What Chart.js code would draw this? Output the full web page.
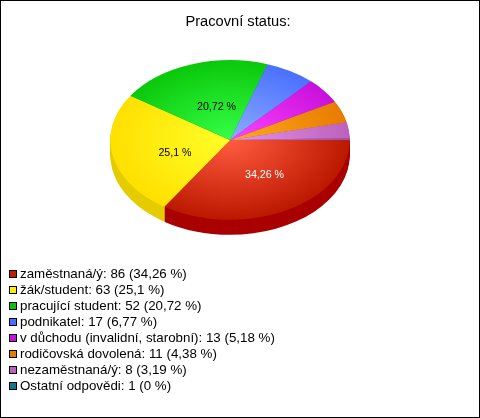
<!DOCTYPE html>
<html><head><meta charset="utf-8">
<style>html,body{margin:0;padding:0;background:#fff}canvas{display:block}</style>
<script src="https://cdn.jsdelivr.net/npm/chart.js@4"></script>
</head><body><div style="width:480px;height:418px"><canvas id="c" width="480" height="418"></canvas></div>
<script>
const titleText = "Pracovní status:";
const categories = ["zaměstnaná/ý","žák/student","pracující student","podnikatel","v důchodu (invalidní, starobní)","rodičovská dovolená","nezaměstnaná/ý","Ostatní odpovědi"];
const counts = [86,63,52,17,13,11,8,1];
const percents = [34.26,25.1,20.72,6.77,5.18,4.38,3.19,0];
const innerColors = ["#ff5c40","#ffff28","#36ff48","#8cacff","#ff44ff","#ffaa20","#e494ea","#c878c8"];
const outerColors = ["#bb1800","#ffe000","#0ac80a","#4a70ff","#c810dc","#e87c00","#bc62bc","#a050a0"];
const sideColors = ["#a90000","#e4cc00","#0a9a0a","#3050c0","#9a0ca8","#b86000","#905090","#905090"];
const swatchColors = ["#c41c00","#ffee00","#0cc40c","#4a70ff","#c810dc","#e87c00","#bc62bc","#107890"];
const shownLabels = [0,1,2];
const labelColors = ["#ffffff","#000000","#000000"];

const FONT = '"Liberation Sans", Arial, sans-serif';
const pieCx = 230, pieCy = 140, squash = 2/3, depth = 15;
const labelSpots = [[34.5,35],[-55,13],[-13.5,-33]];
const comma = v => String(v).replace('.', ',');

function mapPie(ctx, chart, dy){
  const a = chart.chartArea, cx=(a.left+a.right)/2, cy=(a.top+a.bottom)/2;
  ctx.translate(pieCx, pieCy+dy); ctx.scale(1,squash); ctx.translate(-cx,-cy);
}
const pie3d = {
  id:'pie3d',
  beforeDraw(chart){
    const ctx=chart.ctx; ctx.save(); ctx.fillStyle='#fff'; ctx.fillRect(0,0,480,418); ctx.restore();
  },
  beforeDatasetsDraw(chart){
    const ctx=chart.ctx, arcs=chart.getDatasetMeta(0).data;
    for(let d=depth;d>=1;d--){
      ctx.save(); mapPie(ctx,chart,d);
      arcs.forEach((arc,i)=>{
        if(arc.endAngle-arc.startAngle<=0) return;
        ctx.beginPath(); ctx.moveTo(arc.x,arc.y);
        ctx.arc(arc.x,arc.y,arc.outerRadius,arc.startAngle,arc.endAngle); ctx.closePath();
        ctx.fillStyle=sideColors[i]; ctx.fill();
      });
      ctx.restore();
    }
    ctx.save(); mapPie(ctx,chart,0);
  },
  afterDatasetsDraw(chart){
    const ctx=chart.ctx; ctx.restore();
    ctx.save();
    ctx.font='10.67px '+FONT; ctx.textAlign='center'; ctx.textBaseline='middle';
    shownLabels.forEach((k,n)=>{
      ctx.fillStyle=labelColors[n];
      ctx.fillText(comma(percents[k])+' %', pieCx+labelSpots[n][0], pieCy+labelSpots[n][1]);
    });
    ctx.font='13.33px '+FONT; ctx.textAlign='left'; ctx.textBaseline='alphabetic';
    categories.forEach((name,i)=>{
      const top=270+16*i;
      ctx.fillStyle=swatchColors[i]; ctx.fillRect(9,top,8,8);
      ctx.strokeStyle='#000'; ctx.lineWidth=1; ctx.strokeRect(9.5,top+0.5,7,7);
      ctx.fillStyle='#000';
      ctx.fillText(name+': '+counts[i]+' ('+comma(percents[i])+' %)',20,top+8);
    });
    ctx.strokeStyle='#000'; ctx.lineWidth=1; ctx.strokeRect(0.5,0.5,479,417);
    ctx.restore();
  }
};
new Chart(document.getElementById('c'),{
  type:'pie',
  data:{labels:categories,datasets:[{
    data:counts, borderWidth:0, clip:false,
    backgroundColor(c){
      const a=c.chart.chartArea, i=c.dataIndex;
      if(!a||i===undefined) return outerColors[i||0];
      const cx=(a.left+a.right)/2, cy=(a.top+a.bottom)/2, r=(a.bottom-a.top)/2;
      const g=c.chart.ctx.createRadialGradient(cx,cy,0,cx,cy,r);
      g.addColorStop(0,innerColors[i]); g.addColorStop(1,outerColors[i]);
      return g;
    }
  }]},
  options:{
    responsive:false, animation:false, devicePixelRatio:1, rotation:90,
    layout:{padding:{left:0,right:4,top:0,bottom:149}},
    events:[],
    plugins:{
      legend:{display:false}, tooltip:{enabled:false},
      title:{display:true,text:titleText,color:'#000',padding:{top:15,bottom:0},
        font:{family:FONT,size:14.67,weight:'normal',lineHeight:1}}
    }
  },
  plugins:[pie3d]
});
</script></body></html>
